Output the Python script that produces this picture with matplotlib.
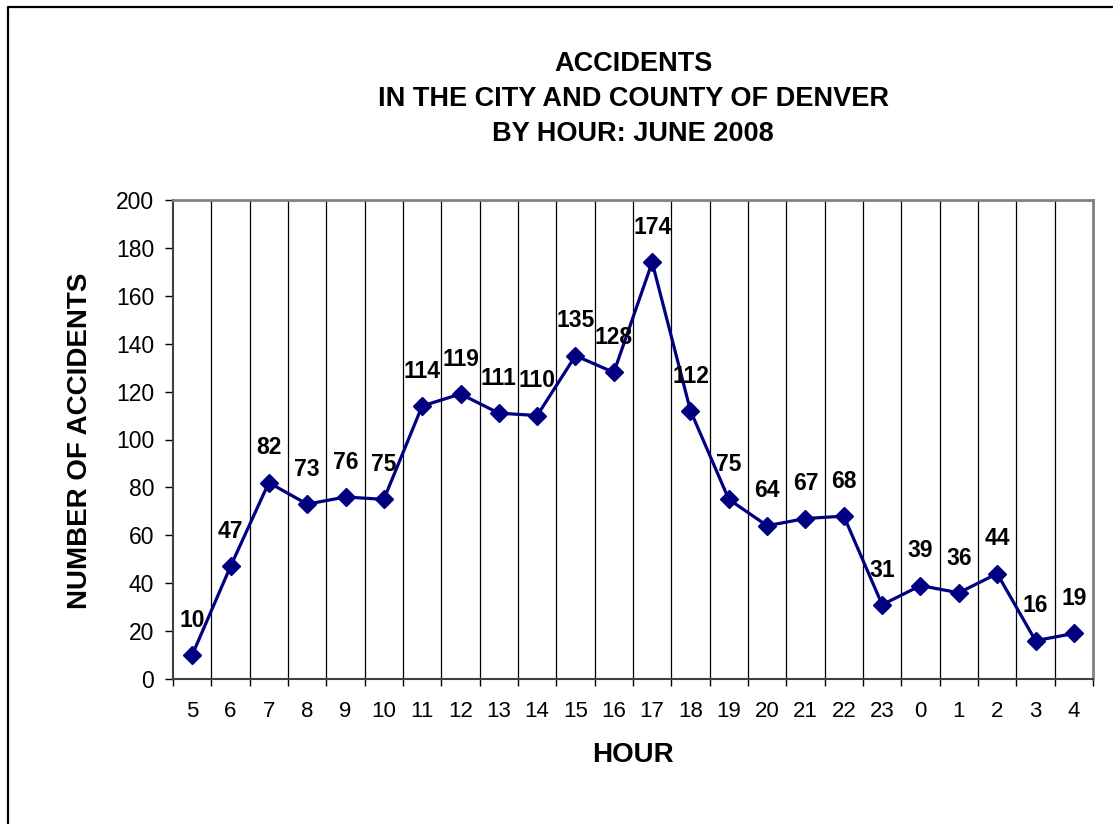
#!/usr/bin/python
# -*- coding: utf-8 -*-
"""
plot.py: Denver accidents by hour of day, June 2008 (Excel-style line chart)
"""

import matplotlib
matplotlib.use('Agg') # Headless plotting
import matplotlib.pyplot as plt
from matplotlib.lines import Line2D

# Hours, in the order shown on the chart (day starts at 5 am)
hours = ['5', '6', '7', '8', '9', '10', '11', '12', '13', '14', '15', '16',
         '17', '18', '19', '20', '21', '22', '23', '0', '1', '2', '3', '4']
# Number of accidents for each hour
accidents = [10, 47, 82, 73, 76, 75, 114, 119, 111, 110, 135, 128,
             174, 112, 75, 64, 67, 68, 31, 39, 36, 44, 16, 19]
yticks = [0, 20, 40, 60, 80, 100, 120, 140, 160, 180, 200]

title_lines = ['ACCIDENTS', 'IN THE CITY AND COUNTY OF DENVER', 'BY HOUR: JUNE 2008']

plt.rcParams['font.family'] = ['Liberation Sans', 'DejaVu Sans']

W, H = 1113, 824 # Output size in pixels (dpi 100)

def accidentPlot(outfn):
    """ Draw the accidents-by-hour chart and save it to outfn """
    fig = plt.figure(figsize=(W/100., H/100.), dpi=100)
    # Plot area in pixel coords: left 173, right 1093, top 200, bottom 679
    ax = fig.add_axes([173./W, 1 - 679./H, (1093. - 173.)/W, (679. - 200.)/H])

    x = range(len(hours))
    ax.plot(x, accidents, color='#000080', lw=2.3, marker='D', ms=9,
            mfc='#000080', mec='#000080', zorder=3, clip_on=False)

    # Bold data labels centered above each point
    for xi, v in zip(x, accidents):
        ax.annotate(str(v), (xi, v), xytext=(0, 25), textcoords='offset points',
                    ha='center', va='center', fontsize=16.5, fontweight='bold')

    ax.set_xlim(-0.5, len(hours) - 0.5)
    ax.set_ylim(0, 200)

    # Vertical gridlines on category boundaries
    for b in range(1, len(hours)):
        ax.axvline(b - 0.5, color='black', lw=0.9, zorder=1)

    # Boundary ticks (major, unlabeled) and category labels (minor, centered)
    ax.set_xticks([b - 0.5 for b in range(len(hours) + 1)])
    ax.set_xticklabels([])
    ax.set_xticks(list(x), minor=True)
    ax.set_xticklabels(hours, minor=True, fontsize=16)
    ax.tick_params(axis='x', which='major', direction='out', length=5, width=1, color='black')
    ax.tick_params(axis='x', which='minor', length=0, pad=15.5)

    ax.set_yticks(yticks)
    ax.set_yticklabels([str(t) for t in yticks], fontsize=16.5)
    ax.tick_params(axis='y', direction='out', length=5.5, width=1, pad=8, color='black')

    # Excel-ish frame: gray plot border, dark axis lines
    for side in ['top', 'right']:
        ax.spines[side].set_color('#808080')
        ax.spines[side].set_linewidth(2)
    for side in ['left', 'bottom']:
        ax.spines[side].set_color('#404040')
        ax.spines[side].set_linewidth(1.5)

    # Titles and axis labels (placed in pixel coords)
    for txt, ybase in zip(title_lines, [71, 106.5, 141]):
        fig.text(633./W, 1 - ybase/H, txt, ha='center', va='baseline',
                 fontsize=19.5, fontweight='bold')
    fig.text(633./W, 1 - 761.5/H, 'HOUR', ha='center', va='baseline',
             fontsize=20, fontweight='bold')
    fig.text(80./W, 1 - 441./H, 'NUMBER OF ACCIDENTS', ha='center', va='center',
             rotation=90, fontsize=20, fontweight='bold')

    # Chart-area border (left and top edges only visible in the crop)
    bx, by = 7.5/W, 1 - 6.5/H
    fig.add_artist(Line2D([bx, bx, 1.0], [0.0, by, by], transform=fig.transFigure,
                          color='black', lw=1.6))

    fig.savefig(outfn, dpi=100)
    plt.close(fig)
    return

accidentPlot('out.png')
